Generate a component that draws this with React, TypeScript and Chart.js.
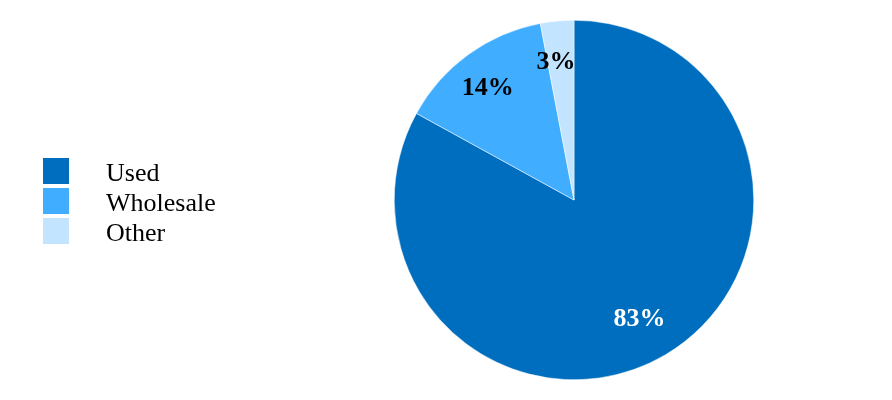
import React, { useEffect, useRef } from "react";
import { Chart, registerables } from "chart.js";

Chart.register(...registerables);

const categories = ["Used", "Wholesale", "Other"];
const shares = [83, 14, 3];
const sliceColors = ["#006EBF", "#40ADFF", "#C2E4FF"];
const labelColors = ["#FFFFFF", "#000000", "#000000"];

const FONT = "'Liberation Serif', 'Times New Roman', serif";

const labelPlugin = {
  id: "sliceLabels",
  afterDatasetsDraw(chart: any) {
    const ctx = chart.ctx;
    const meta = chart.getDatasetMeta(0);
    ctx.save();
    ctx.font = `bold 26px ${FONT}`;
    ctx.textAlign = "center";
    ctx.textBaseline = "alphabetic";
    meta.data.forEach((arc: any, i: number) => {
      const { x, y, startAngle, endAngle, outerRadius } = arc.getProps(
        ["x", "y", "startAngle", "endAngle", "outerRadius"],
        true
      );
      const mid = (startAngle + endAngle) / 2;
      const r = outerRadius * 0.77;
      const cx = x + Math.cos(mid) * r - 5;
      const cy = y + Math.sin(mid) * r;
      ctx.fillStyle = labelColors[i];
      ctx.fillText(`${shares[i]}%`, cx, cy + 6.5);
    });
    ctx.restore();
  },
};

export default function App() {
  const ref = useRef<HTMLCanvasElement>(null);
  useEffect(() => {
    document.body.style.margin = "0";
    const chart = new Chart(ref.current!, {
      type: "pie",
      data: {
        labels: categories,
        datasets: [
          {
            data: shares,
            backgroundColor: sliceColors,
            borderColor: "#FFFFFF",
            borderWidth: 0.5,
          },
        ],
      },
      options: {
        animation: false,
        responsive: false,
        maintainAspectRatio: false,
        layout: { padding: { left: 394, right: 138, top: 20, bottom: 20 } },
        plugins: { legend: { display: false }, tooltip: { enabled: false } },
      },
      plugins: [labelPlugin],
    });
    return () => chart.destroy();
  }, []);

  return (
    <div style={{ position: "relative", width: 892, height: 400, background: "#fff" }}>
      <canvas ref={ref} width={892} height={400} style={{ position: "absolute", left: 0, top: 0 }} />
      {categories.map((c, i) => (
        <div
          key={c}
          style={{ position: "absolute", left: 43, top: 158 + i * 30, height: 26, display: "flex", alignItems: "center" }}
        >
          <div style={{ width: 26, height: 26, background: sliceColors[i] }} />
          <span style={{ marginLeft: 37, fontFamily: FONT, fontSize: 26, color: "#000", lineHeight: "26px", position: "relative", top: 2 }}>{c}</span>
        </div>
      ))}
    </div>
  );
}
